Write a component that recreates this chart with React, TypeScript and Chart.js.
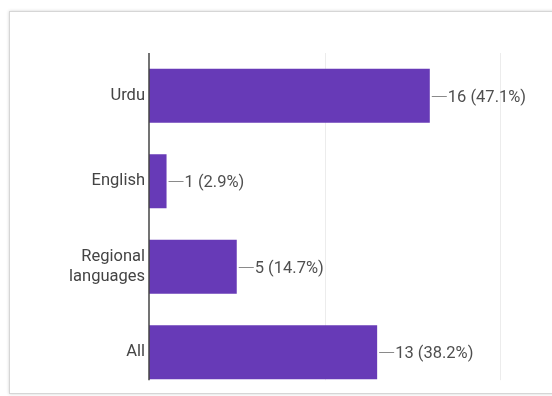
import React, { useEffect, useRef } from "react";
import { Chart, registerables } from "chart.js";

Chart.register(...registerables);

const categories: (string | string[])[] = ["Urdu", "English", ["Regional", "languages"], "All"];
const counts = [16, 1, 5, 13];
const percents = ["47.1%", "2.9%", "14.7%", "38.2%"];
const xMin = 0;
const xMax = 20;
const xStep = 10;
const gridValues = [10, 20];

const FONT = "Roboto, 'Noto Sans', sans-serif";

const decorPlugin = {
  id: "decor",
  beforeDatasetsDraw(chart: any) {
    const ctx = chart.ctx;
    const xs = chart.scales.x;
    const meta = chart.getDatasetMeta(0);
    const last = meta.data[meta.data.length - 1];
    const bottom = last.y + last.height / 2 + 1;
    const top = chart.chartArea.top;
    ctx.save();
    ctx.strokeStyle = "#ececec";
    ctx.lineWidth = 1;
    gridValues.forEach((v) => {
      const px = Math.round(xs.getPixelForValue(v)) + 0.5;
      ctx.beginPath();
      ctx.moveTo(px, top);
      ctx.lineTo(px, bottom);
      ctx.stroke();
    });
    ctx.restore();
  },
  afterDatasetsDraw(chart: any) {
    const ctx = chart.ctx;
    const xs = chart.scales.x;
    const meta = chart.getDatasetMeta(0);
    const last = meta.data[meta.data.length - 1];
    const bottom = last.y + last.height / 2 + 1;
    const top = chart.chartArea.top;
    ctx.save();
    const x0 = xs.getPixelForValue(xMin);
    ctx.strokeStyle = "#444";
    ctx.lineWidth = 1.5;
    ctx.beginPath();
    ctx.moveTo(x0, top);
    ctx.lineTo(x0, bottom);
    ctx.stroke();
    ctx.font = `16.5px ${FONT}`;
    ctx.textBaseline = "middle";
    ctx.textAlign = "left";
    meta.data.forEach((bar: any, i: number) => {
      const x = bar.x;
      const y = Math.round(bar.y) + 0.5;
      ctx.strokeStyle = "#8a8a8a";
      ctx.lineWidth = 1;
      ctx.beginPath();
      ctx.moveTo(x + 2, y);
      ctx.lineTo(x + 17, y);
      ctx.stroke();
      ctx.fillStyle = "#4f4f4f";
      ctx.fillText(`${counts[i]} (${percents[i]})`, x + 18, y + 1);
    });
    ctx.restore();
  },
};

export default function App() {
  const ref = useRef<HTMLCanvasElement>(null);

  useEffect(() => {
    if (!ref.current) return;
    const chart = new Chart(ref.current, {
      type: "bar",
      data: {
        labels: categories,
        datasets: [
          {
            data: counts,
            backgroundColor: "#673ab7",
            borderWidth: 0,
            barPercentage: 0.63,
            categoryPercentage: 1,
          },
        ],
      },
      options: {
        indexAxis: "y",
        responsive: false,
        animation: false,
        layout: { padding: { top: 53, right: 52, bottom: 1, left: 0 } },
        plugins: {
          legend: { display: false },
          tooltip: { enabled: false },
          title: { display: false },
        },
        scales: {
          x: {
            display: false,
            min: xMin,
            max: xMax,
            ticks: { display: false, stepSize: xStep },
            grid: { display: false, drawTicks: false },
            border: { display: false },
          },
          y: {
            grid: { display: false, drawTicks: false },
            border: { display: false },
            ticks: {
              padding: 4,
              color: "#444",
              font: { family: FONT, size: 16.5, lineHeight: 1.25 },
            },
            afterFit(scale: any) {
              scale.width = 149;
              scale.paddingTop = 0;
              scale.paddingBottom = 0;
            },
          },
        },
      },
      plugins: [decorPlugin],
    });
    return () => chart.destroy();
  }, []);

  return (
    <div style={{ position: "fixed", left: 0, top: 0, width: 552, height: 396, background: "#fff", overflow: "hidden" }}>
      <div
        style={{
          position: "absolute",
          left: 9,
          top: 11,
          width: 600,
          height: 381,
          border: "1px solid #d6d6d6",
          boxShadow: "0 0 3px rgba(0,0,0,0.18)",
          background: "#fff",
        }}
      />
      <canvas ref={ref} width={552} height={396} style={{ position: "absolute", left: 0, top: 0, display: "block" }} />
    </div>
  );
}
